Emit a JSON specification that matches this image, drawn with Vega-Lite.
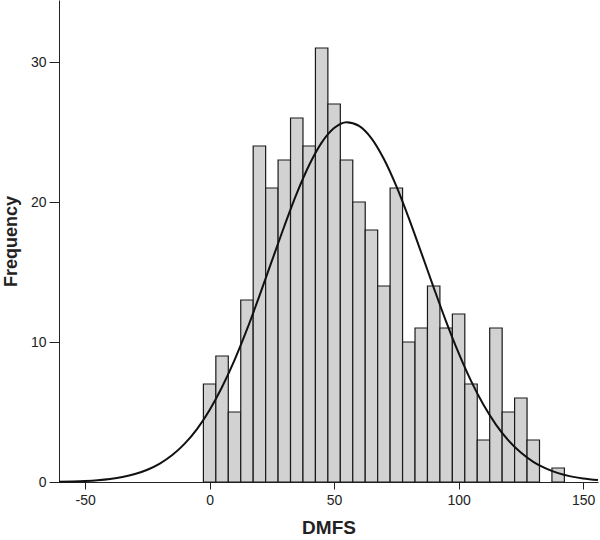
{
  "$schema": "https://vega.github.io/schema/vega-lite/v6.json",
  "autosize": "none",
  "width": 539,
  "height": 482,
  "padding": {"left": 59, "top": 0, "right": 2, "bottom": 58},
  "background": "white",
  "config": {
    "view": {"stroke": null},
    "axis": {
      "grid": false,
      "domainColor": "#222222",
      "tickColor": "#222222",
      "labelColor": "#222222",
      "titleColor": "#222222",
      "labelFont": "Liberation Sans",
      "titleFont": "Liberation Sans",
      "labelFontSize": 14,
      "titleFontSize": 18,
      "titleFontWeight": "bold"
    }
  },
  "datasets": {
    "bars": [
      {"lo": -2.5, "hi": 2.5, "count": 7},
      {"lo": 2.5, "hi": 7.5, "count": 9},
      {"lo": 7.5, "hi": 12.5, "count": 5},
      {"lo": 12.5, "hi": 17.5, "count": 13},
      {"lo": 17.5, "hi": 22.5, "count": 24},
      {"lo": 22.5, "hi": 27.5, "count": 21},
      {"lo": 27.5, "hi": 32.5, "count": 23},
      {"lo": 32.5, "hi": 37.5, "count": 26},
      {"lo": 37.5, "hi": 42.5, "count": 24},
      {"lo": 42.5, "hi": 47.5, "count": 31},
      {"lo": 47.5, "hi": 52.5, "count": 27},
      {"lo": 52.5, "hi": 57.5, "count": 23},
      {"lo": 57.5, "hi": 62.5, "count": 20},
      {"lo": 62.5, "hi": 67.5, "count": 18},
      {"lo": 67.5, "hi": 72.5, "count": 14},
      {"lo": 72.5, "hi": 77.5, "count": 21},
      {"lo": 77.5, "hi": 82.5, "count": 10},
      {"lo": 82.5, "hi": 87.5, "count": 11},
      {"lo": 87.5, "hi": 92.5, "count": 14},
      {"lo": 92.5, "hi": 97.5, "count": 11},
      {"lo": 97.5, "hi": 102.5, "count": 12},
      {"lo": 102.5, "hi": 107.5, "count": 7},
      {"lo": 107.5, "hi": 112.5, "count": 3},
      {"lo": 112.5, "hi": 117.5, "count": 11},
      {"lo": 117.5, "hi": 122.5, "count": 5},
      {"lo": 122.5, "hi": 127.5, "count": 6},
      {"lo": 127.5, "hi": 132.5, "count": 3},
      {"lo": 137.5, "hi": 142.5, "count": 1}
    ],
    "curve": [
      {"x": -60.5, "y": 0.023},
      {"x": -55, "y": 0.044},
      {"x": -50, "y": 0.078},
      {"x": -45, "y": 0.133},
      {"x": -40, "y": 0.221},
      {"x": -35, "y": 0.359},
      {"x": -30, "y": 0.568},
      {"x": -25, "y": 0.875},
      {"x": -20, "y": 1.314},
      {"x": -15, "y": 1.923},
      {"x": -10, "y": 2.74},
      {"x": -5, "y": 3.8},
      {"x": 0, "y": 5.15},
      {"x": 5, "y": 6.79},
      {"x": 10, "y": 8.71},
      {"x": 15, "y": 10.9},
      {"x": 20, "y": 13.29},
      {"x": 25, "y": 15.79},
      {"x": 30, "y": 18.27},
      {"x": 35, "y": 20.61},
      {"x": 40, "y": 22.64},
      {"x": 45, "y": 24.24},
      {"x": 50, "y": 25.28},
      {"x": 55, "y": 25.7},
      {"x": 60, "y": 25.44},
      {"x": 65, "y": 24.55},
      {"x": 70, "y": 23.07},
      {"x": 75, "y": 21.13},
      {"x": 80, "y": 18.85},
      {"x": 85, "y": 16.39},
      {"x": 90, "y": 13.89},
      {"x": 95, "y": 11.46},
      {"x": 100, "y": 9.22},
      {"x": 105, "y": 7.22},
      {"x": 110, "y": 5.51},
      {"x": 115, "y": 4.1},
      {"x": 120, "y": 2.97},
      {"x": 125, "y": 2.1},
      {"x": 130, "y": 1.44},
      {"x": 135, "y": 0.967},
      {"x": 140, "y": 0.631},
      {"x": 145, "y": 0.402},
      {"x": 150, "y": 0.249},
      {"x": 156, "y": 0.135}
    ]
  },
  "layer": [
    {
      "data": {"name": "bars"},
      "mark": {"type": "rect", "fill": "#d2d2d2", "stroke": "#1a1a1a", "strokeWidth": 1.2},
      "encoding": {
        "x": {
          "field": "lo",
          "type": "quantitative",
          "scale": {"domain": [-60.5, 156], "nice": false, "zero": false},
          "axis": {
            "title": "DMFS",
            "values": [-50, 0, 50, 100, 150],
            "labelExpr": "datum.value < 0 ? '-' + abs(datum.value) : '' + datum.value",
            "tickSize": 7,
            "labelPadding": 4,
            "titlePadding": 11,
            "titleFontSize": 19
          }
        },
        "x2": {"field": "hi"},
        "y": {
          "field": "count",
          "type": "quantitative",
          "scale": {"domain": [0, 34.43], "nice": false},
          "axis": {
            "title": "Frequency",
            "values": [0, 10, 20, 30],
            "tickSize": 10,
            "labelPadding": 3,
            "titlePadding": 10
          }
        },
        "y2": {"datum": 0}
      }
    },
    {
      "data": {"name": "curve"},
      "mark": {"type": "line", "color": "#111111", "strokeWidth": 2, "interpolate": "monotone"},
      "encoding": {
        "x": {"field": "x", "type": "quantitative"},
        "y": {"field": "y", "type": "quantitative"}
      }
    }
  ]
}
